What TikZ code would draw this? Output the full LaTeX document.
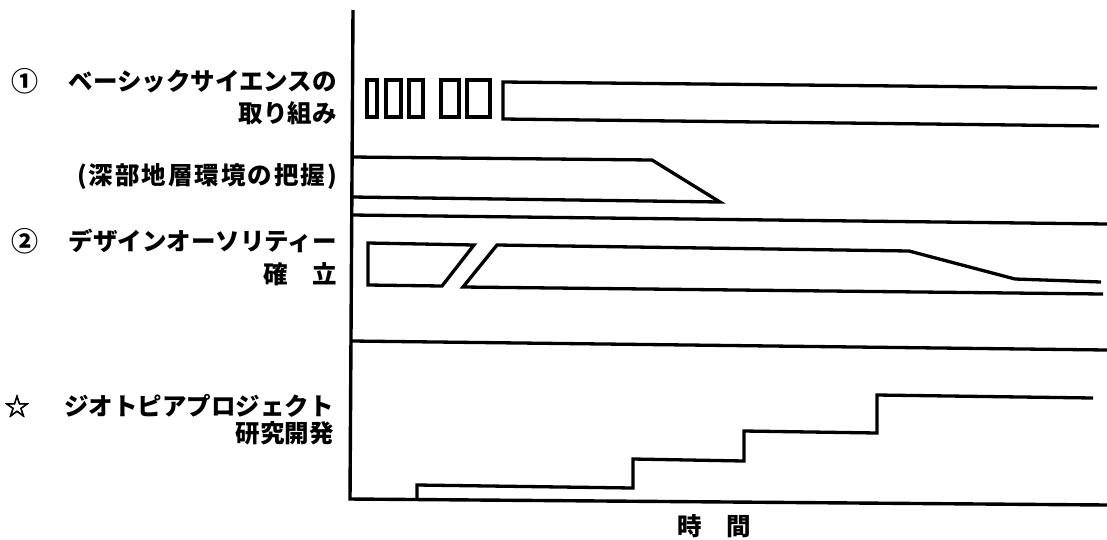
\documentclass[tikz,border=0pt]{standalone}
\usepackage{fontspec}
\newfontfamily\jp{Noto Sans CJK JP}
\newfontfamily\jpwide{Noto Sans CJK JP}[LetterSpace=8]
\newfontfamily\jpsym{Noto Sans CJK JP}[FakeBold=2.5]
\begin{document}
\begin{tikzpicture}[x=1pt,y=-1pt,
  bar/.style={line width=3.3pt, line join=miter},
  axisline/.style={line width=3.4pt},
  lbl/.style={font=\jp\bfseries\fontsize{24.5}{26}\selectfont, inner sep=0pt, anchor=east},
  widelbl/.style={font=\jpwide\bfseries\fontsize{24.5}{26}\selectfont, inner sep=0pt, anchor=east},
  numlbl/.style={font=\jp\bfseries\fontsize{27}{28}\selectfont, inner sep=0pt, anchor=center},
  starlbl/.style={font=\jpsym\fontsize{25}{26}\selectfont, inner sep=0pt, anchor=center},
  axlbl/.style={font=\jp\bfseries\fontsize{24.5}{26}\selectfont, inner sep=0pt, anchor=center}
]
\useasboundingbox (0,0) rectangle (1107,539);

% labels
\node[numlbl] (n1) at (25,81) {①};
\node[lbl] (l1a) at (337,81) {ベーシックサイエンスの};
\node[lbl] (l1b) at (337,113) {取り組み};
\node[widelbl] (l1c) at (337,177) {(深部地層環境の把握)};
\node[numlbl] (n2) at (25,241) {②};
\node[lbl] (l2a) at (337,241) {デザインオーソリティー};
\node[lbl] (l2b) at (337,274) {確　立};
\node[starlbl] (n3) at (17,406) {☆};
\node[lbl] (l3a) at (334,406) {ジオトピアプロジェクト};
\node[lbl] (l3b) at (334,433) {研究開発};
\node[axlbl] (tx) at (714,526) {時　間};

% axes
\draw[axisline] (353,10) -- (350,499) -- (1107,505);

% row 1 : basic science
\draw[bar] (367,80) rectangle (377,117);
\draw[bar] (386,80) rectangle (401,117);
\draw[bar] (409,80) rectangle (423,117);
\draw[bar] (441,80) rectangle (459,117);
\draw[bar] (467,80) rectangle (490,117);
\draw[bar] (1097,88) -- (503,82) -- (503,119) -- (1099,126);

% row 1b : deep geological environment
\draw[bar] (352,157) -- (652,160) -- (720,202) -- (352,197);

% separator 1
\draw[bar] (352,215) -- (1107,224);

% row 2 : design authority
\draw[bar] (368,243) -- (474,245) -- (442,286) -- (368,285) -- cycle;
\draw[bar] (1103,294) -- (463,287) -- (497,245) -- (909,251) -- (1015,279) -- (1101,282);

% separator 2
\draw[bar] (352,341) -- (1107,350);

% row 3 : steps
\draw[bar] (417,499) -- (417,485) -- (633,488) -- (633,459) -- (744,461) -- (744,431) -- (877,433) -- (877,395) -- (1093,398);
\end{tikzpicture}
\end{document}
